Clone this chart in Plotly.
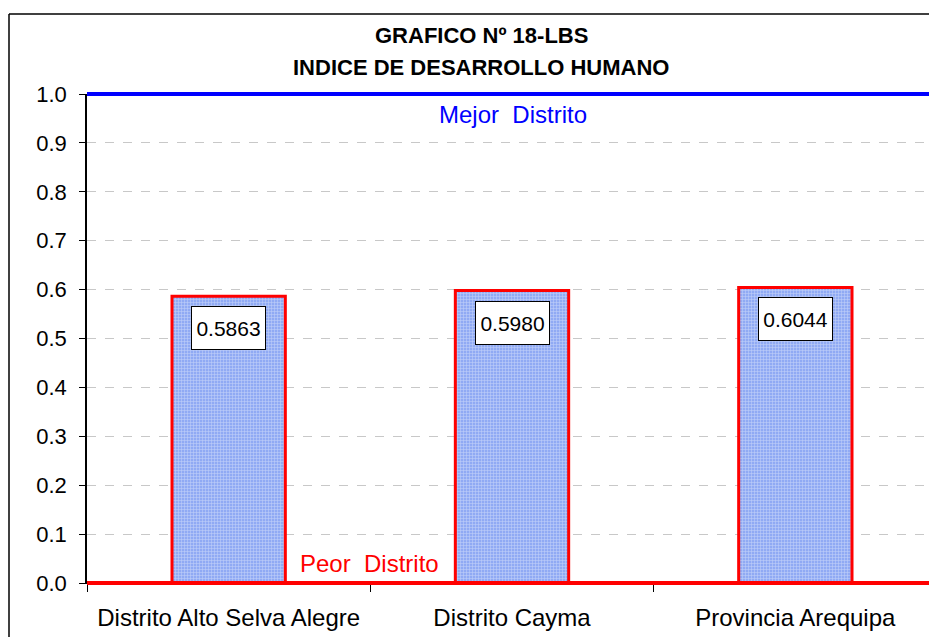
import plotly.graph_objects as go

categories = ["Distrito Alto Selva Alegre", "Distrito Cayma", "Provincia Arequipa"]
idh_values = [0.5863, 0.5980, 0.6044]
value_labels = ["0.5863", "0.5980", "0.6044"]
y_ticks = [0.0, 0.1, 0.2, 0.3, 0.4, 0.5, 0.6, 0.7, 0.8, 0.9, 1.0]
best_value = 1.0
worst_value = 0.0

OFF = 8  # page body margin
W, H = 937 - OFF, 637 - OFF
L, T = 87 - OFF, 94 - OFF
B = 637 - 583
R = 0
pw = W - L - R
ph = H - T - B

def px_x(p):
    return (p - OFF - L) / pw

def px_y(p):
    return (H - B - (p - OFF)) / ph

FONT = "Liberation Sans, Arial, sans-serif"

fig = go.Figure()
fig.add_trace(go.Bar(
    x=categories, y=idh_values, width=0.4,
    marker=dict(
        color="#94adf5",
        line=dict(color="#ff0000", width=3),
        pattern=dict(shape="+", fgcolor="#eef2fe", bgcolor="#90aaf4", size=3, solidity=0.35),
    ),
    showlegend=False, hoverinfo="skip",
))

annotations = []
for c, v, t in zip(categories, idh_values, value_labels):
    annotations.append(dict(
        x=c, y=v, xref="x", yref="y", text=t, showarrow=False,
        yanchor="top", yshift=-10, bgcolor="white", bordercolor="black",
        borderwidth=1, borderpad=2, width=69, height=38,
        font=dict(family=FONT, size=21, color="black"),
    ))

annotations += [
    dict(x=px_x(481), y=px_y(35), xref="paper", yref="paper", showarrow=False,
         text="<b>GRAFICO Nº 18-LBS</b>", font=dict(family=FONT, size=22, color="black"),
         xanchor="center", yanchor="middle"),
    dict(x=px_x(481), y=px_y(67), xref="paper", yref="paper", showarrow=False,
         text="<b>INDICE DE DESARROLLO HUMANO</b>", font=dict(family=FONT, size=22, color="black"),
         xanchor="center", yanchor="middle"),
    dict(x=px_x(513), y=px_y(115), xref="paper", yref="paper", showarrow=False,
         text="Mejor  Distrito", font=dict(family=FONT, size=24, color="#0000ff"),
         xanchor="center", yanchor="middle"),
    dict(x=px_x(369), y=px_y(563), xref="paper", yref="paper", showarrow=False,
         text="Peor  Distrito", font=dict(family=FONT, size=24, color="#ff0000"),
         xanchor="center", yanchor="middle"),
]

shapes = [
    # outer chart border
    dict(type="line", xref="paper", yref="paper", x0=px_x(9), x1=px_x(9), y0=px_y(14), y1=px_y(700),
         line=dict(color="black", width=1.5)),
    dict(type="line", xref="paper", yref="paper", x0=px_x(9), x1=px_x(1000), y0=px_y(14), y1=px_y(14),
         line=dict(color="black", width=1.5)),
    # best / worst reference lines
    dict(type="line", xref="paper", yref="paper", x0=0, x1=1, y0=best_value, y1=best_value,
         line=dict(color="#0000ff", width=4)),
    dict(type="line", xref="paper", yref="paper", x0=0, x1=1, y0=worst_value, y1=worst_value,
         line=dict(color="#ff0000", width=4)),
]

fig.update_layout(
    width=W, height=H,
    margin=dict(l=L, r=R, t=T, b=B, pad=0),
    paper_bgcolor="white", plot_bgcolor="white",
    annotations=annotations, shapes=shapes,
    font=dict(family=FONT, color="black"),
    xaxis=dict(
        type="category", range=[-0.5, -0.5 + (pw + 5) / 285.0],
        tickson="boundaries", ticks="outside", ticklen=8, tickcolor="black",
        showline=True, linecolor="black", linewidth=1,
        tickfont=dict(family=FONT, size=24, color="black"),
        ticklabelstandoff=13, showgrid=False,
    ),
    yaxis=dict(
        range=[0, 1], tickvals=y_ticks, tickformat=".1f",
        ticks="outside", ticklen=6, tickcolor="black",
        showline=True, linecolor="black", linewidth=1.5,
        showgrid=True, gridcolor="#c8c8c8", griddash="dash", gridwidth=1,
        tickfont=dict(family=FONT, size=22, color="black"),
        ticklabelstandoff=8, zeroline=False,
    ),
)

fig.write_html("out.html")
